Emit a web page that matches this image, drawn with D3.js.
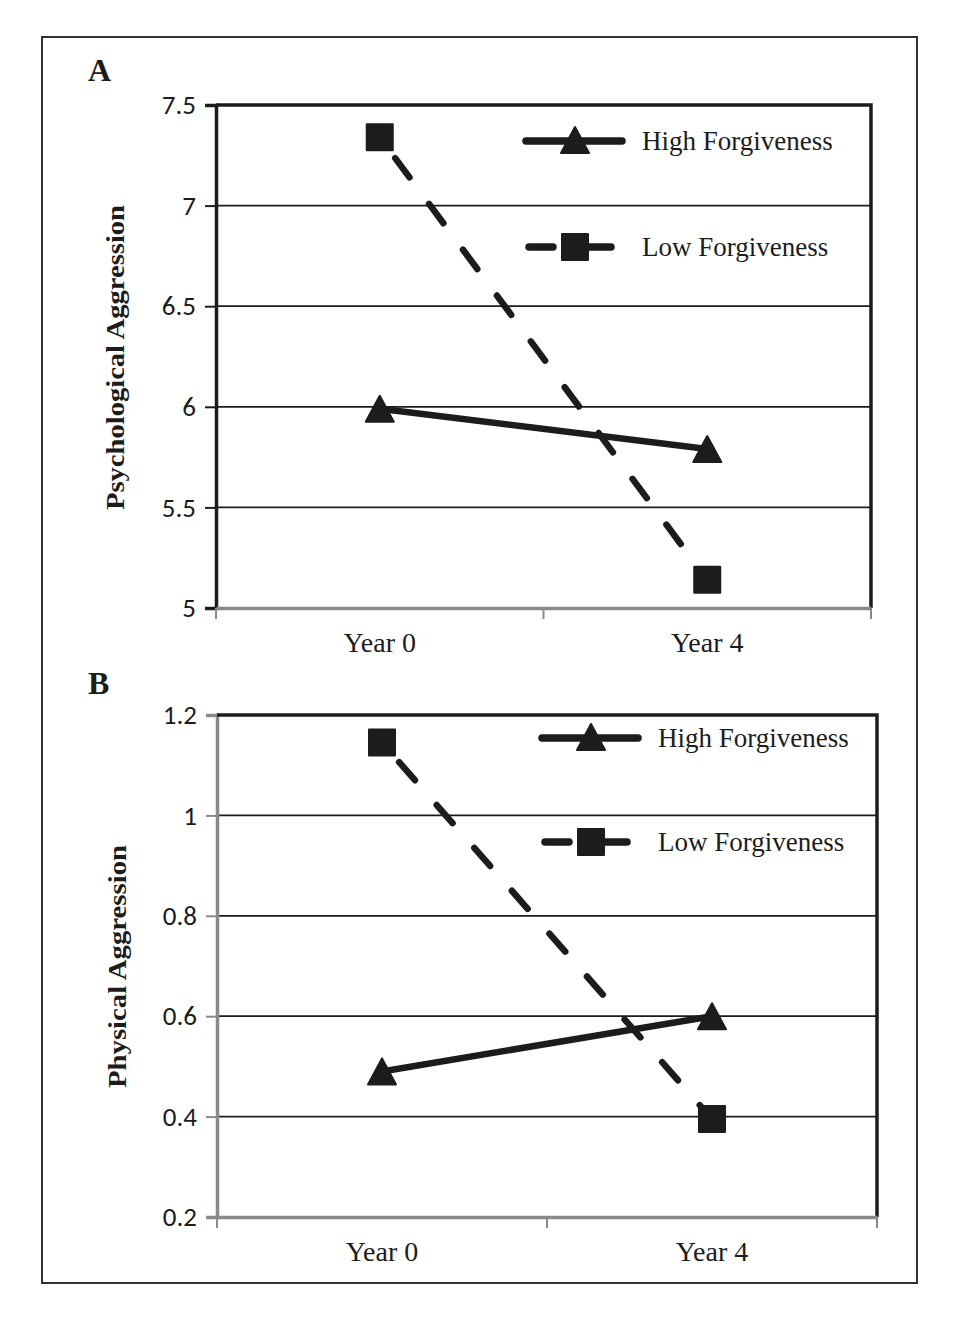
<!DOCTYPE html>
<html>
<head>
<meta charset="utf-8">
<script src="https://cdn.jsdelivr.net/npm/d3@7"></script>
<style>
  body { margin: 0; background: #fff; }
  svg { display: block; }
</style>
</head>
<body>
<svg id="chart" width="956" height="1322"></svg>
<script>
// data
const categories = ["Year 0", "Year 4"];
const seriesNames = ["High Forgiveness", "Low Forgiveness"];

const psychHigh = [5.99, 5.79];
const psychLow = [7.34, 5.14];
const psychTicks = [5, 5.5, 6, 6.5, 7, 7.5];

const physHigh = [0.49, 0.60];
const physLow = [1.145, 0.395];
const physTicks = [0.2, 0.4, 0.6, 0.8, 1, 1.2];

const ink = "#1c1c1c";
const svg = d3.select("#chart");

// outer border
svg.append("rect")
  .attr("x", 42).attr("y", 37)
  .attr("width", 875).attr("height", 1246)
  .attr("fill", "none").attr("stroke", "#333").attr("stroke-width", 2);

const triangle = (cx, cy) => `M${cx},${cy - 13} L${cx + 14},${cy + 13} L${cx - 14},${cy + 13} Z`;
const square = (cx, cy) => `M${cx - 13},${cy - 13} h26 v26 h-26 Z`;

function drawPanel(cfg) {
  const g = svg.append("g");

  const x = d3.scaleBand().domain(categories).range([cfg.left, cfg.right]);
  const y = d3.scaleLinear().domain(d3.extent(cfg.ticks)).range([cfg.bottom, cfg.top]);

  // gridlines
  g.append("g")
    .selectAll("line")
    .data(cfg.ticks.slice(1, -1))
    .enter().append("line")
    .attr("x1", cfg.left).attr("x2", cfg.right)
    .attr("y1", d => y(d)).attr("y2", d => y(d))
    .attr("stroke", ink).attr("stroke-width", 1.8);

  // y axis
  const yAxis = g.append("g")
    .attr("transform", `translate(${cfg.left},0)`)
    .call(d3.axisLeft(y).tickValues(cfg.ticks).tickSize(11).tickPadding(9).tickFormat(d => d));
  yAxis.select(".domain").attr("stroke", cfg.leftColor).attr("stroke-width", 3.5);
  yAxis.selectAll(".tick line").attr("stroke", cfg.leftColor).attr("stroke-width", 2);
  yAxis.selectAll(".tick text")
    .attr("fill", ink)
    .style("font-family", "Carlito, Calibri, Lato, sans-serif")
    .style("font-size", "27px");

  // top and right frame
  g.append("path")
    .attr("d", `M${cfg.left},${cfg.top} H${cfg.right} V${cfg.bottom}`)
    .attr("fill", "none").attr("stroke", ink).attr("stroke-width", 3.5);

  // x axis
  const xAxis = g.append("g")
    .attr("transform", `translate(0,${cfg.bottom})`)
    .call(d3.axisBottom(x).tickSize(0).tickPadding(24));
  xAxis.select(".domain").attr("stroke", "#8a8a8a").attr("stroke-width", 3.5);
  xAxis.selectAll(".tick text")
    .attr("fill", ink)
    .style("font-family", "'Liberation Serif', 'Times New Roman', serif")
    .style("font-size", "28px");
  // category separators
  const edges = [cfg.left, ...categories.slice(1).map(c => x(c)), cfg.right];
  g.append("g").selectAll("line")
    .data(edges).enter().append("line")
    .attr("x1", d => d).attr("x2", d => d)
    .attr("y1", cfg.bottom).attr("y2", cfg.bottom + 11)
    .attr("stroke", "#8a8a8a").attr("stroke-width", 2);

  // axis title
  g.append("text")
    .attr("transform", `translate(${cfg.titleX},${(cfg.titleTop + cfg.titleBottom) / 2}) rotate(-90)`)
    .attr("text-anchor", "middle")
    .attr("dominant-baseline", "central")
    .attr("textLength", cfg.titleBottom - cfg.titleTop)
    .attr("lengthAdjust", "spacingAndGlyphs")
    .style("font-family", "'Liberation Serif', 'Times New Roman', serif")
    .style("font-weight", "bold")
    .style("font-size", "25px")
    .attr("fill", ink)
    .text(cfg.title);

  // panel letter
  g.append("text")
    .attr("x", 88).attr("y", cfg.letterY)
    .style("font-family", "'Liberation Serif', 'Times New Roman', serif")
    .style("font-weight", "bold")
    .style("font-size", "32px")
    .attr("fill", ink)
    .text(cfg.letter);

  const cx = d => x(d) + x.bandwidth() / 2;
  const line = d3.line().x(d => cx(d.cat)).y(d => y(d.v));

  const highPts = categories.map((c, i) => ({ cat: c, v: cfg.high[i] }));
  const lowPts = categories.map((c, i) => ({ cat: c, v: cfg.low[i] }));

  // low forgiveness: dashed
  g.append("path")
    .datum(lowPts)
    .attr("d", line)
    .attr("fill", "none").attr("stroke", ink)
    .attr("stroke-width", 6.5)
    .attr("stroke-linecap", "round")
    .attr("stroke-dasharray", "24,33")
    .attr("stroke-dashoffset", -26);

  // high forgiveness: solid
  g.append("path")
    .datum(highPts)
    .attr("d", line)
    .attr("fill", "none").attr("stroke", ink)
    .attr("stroke-width", 6.5)
    .attr("stroke-linecap", "round");

  g.selectAll(".sq").data(lowPts).enter().append("path")
    .attr("d", d => square(cx(d.cat), y(d.v)))
    .attr("fill", ink).attr("stroke", ink).attr("stroke-width", 2).attr("stroke-linejoin", "round");
  g.selectAll(".tri").data(highPts).enter().append("path")
    .attr("d", d => triangle(cx(d.cat), y(d.v)))
    .attr("fill", ink).attr("stroke", ink).attr("stroke-width", 2).attr("stroke-linejoin", "round");

  // legend
  const lx = cfg.legendX;
  const leg = g.append("g");
  leg.append("line")
    .attr("x1", lx).attr("x2", lx + 96)
    .attr("y1", cfg.legendY[0]).attr("y2", cfg.legendY[0])
    .attr("stroke", ink).attr("stroke-width", 7.5).attr("stroke-linecap", "round");
  leg.append("path").attr("d", triangle(lx + 49, cfg.legendY[0] - 1))
    .attr("fill", ink).attr("stroke", ink).attr("stroke-width", 2).attr("stroke-linejoin", "round");
  leg.append("line")
    .attr("x1", lx + 3).attr("x2", lx + 86)
    .attr("y1", cfg.legendY[1]).attr("y2", cfg.legendY[1])
    .attr("stroke", ink).attr("stroke-width", 7.5).attr("stroke-linecap", "round")
    .attr("stroke-dasharray", "24,34");
  leg.append("path").attr("d", square(lx + 49, cfg.legendY[1]))
    .attr("fill", ink).attr("stroke", ink).attr("stroke-width", 2).attr("stroke-linejoin", "round");
  leg.selectAll("text").data(seriesNames).enter().append("text")
    .attr("x", lx + 116)
    .attr("y", (d, i) => cfg.legendY[i])
    .attr("dominant-baseline", "central")
    .style("font-family", "'Liberation Serif', 'Times New Roman', serif")
    .style("font-size", "27px")
    .attr("fill", ink)
    .text(d => d);
}

drawPanel({
  letter: "A", letterY: 81,
  left: 216, right: 871, top: 105, bottom: 608,
  ticks: psychTicks, high: psychHigh, low: psychLow,
  leftColor: ink,
  title: "Psychological Aggression", titleX: 115, titleTop: 205, titleBottom: 510,
  legendX: 526, legendY: [141, 247]
});

drawPanel({
  letter: "B", letterY: 694,
  left: 217, right: 877, top: 715, bottom: 1217,
  ticks: physTicks, high: physHigh, low: physLow,
  leftColor: "#8a8a8a",
  title: "Physical Aggression", titleX: 117, titleTop: 845, titleBottom: 1088,
  legendX: 542, legendY: [738, 842]
});
</script>
</body>
</html>
